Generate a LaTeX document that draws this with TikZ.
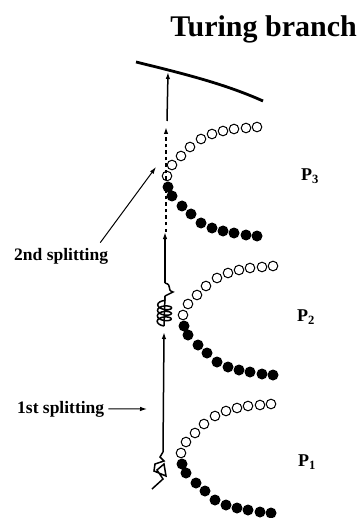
\documentclass[tikz,border=0pt]{standalone}
\usepackage{fontspec}
\setmainfont{Liberation Serif}
\usetikzlibrary{positioning,arrows.meta,decorations.pathmorphing}

\begin{document}
\begin{tikzpicture}[
x=1pt, y=-1pt,
>={Latex[length=7pt,width=4.5pt]},
every node/.style={
inner sep=0pt,
font=\bfseries
},
opendot/.style={circle, draw, line width=1pt, fill=white, minimum size=9.6pt},
fulldot/.style={circle, fill=black, minimum size=11pt},
splitlabel/.style={font=\bfseries\fontsize{17.5}{17.5}\selectfont, anchor=base west},
plabel/.style={font=\bfseries\fontsize{18}{18}\selectfont},
axis/.style={line width=1.5pt}
]
\useasboundingbox (0,0) rectangle (362,518);

\node[anchor=base east, font=\bfseries\fontsize{30}{30}\selectfont] (title) at (357,37) {Turing branch};

% the Turing branch
\draw[line width=2.8pt] (136,62) .. controls (185,74) and (225,84) .. (263,101);

% points on the vertical path
\coordinate (hit) at (168,72);
\coordinate (s3) at (167,121);
\coordinate (d3) at (166,127);
\coordinate (d2) at (166,232);
\coordinate (t2) at (165,232);
\coordinate (c2top) at (165,283);
\coordinate (c2) at (165,296);
\coordinate (c2bot) at (164,326);
\coordinate (t1) at (164,332);
\coordinate (c1top) at (163,452);
\coordinate (split2) at (156,167);
\coordinate (split1) at (147,409);

% branches P3, P2, P1
\foreach \vx/\vy/\k in {167/181/3, 183/320/2, 181/458/1} {
  \foreach \dx/\dy in {0/-5, 5/-16, 14/-25, 23/-34, 34/-42, 45/-47, 56/-50, 67/-52, 79/-53, 90/-54}
    \node[opendot] at (\vx+\dx,\vy+\dy) {};
  \foreach \dx/\dy in {1/6, 5/15, 15/25, 24/33, 34/42, 45/47, 56/50, 67/52, 79/54, 90/55}
    \node[fulldot] at (\vx+\dx,\vy+\dy) {};
}

% arrows along the path
\draw[axis,->] (s3) -- (hit);
\draw[axis,->,dash pattern=on 3.5pt off 3pt] (d2) -- (d3);
\draw[axis,->] (c2top) -- (t2);
\draw[axis] (c2top) .. controls (173,285) and (166,290) .. (173,292) -- (c2);
\draw[axis,decorate,decoration={coil,aspect=0.45,segment length=5.5pt,amplitude=7pt}] (c2bot) -- (c2);
\draw[axis] (c2bot) -- (c2);
\draw[axis,->] (c1top) -- (t1);

% tangle at the first splitting
\draw[axis] (c1top) -- (160,457) -- (164,461) -- (155,464) -- (154,471)
  -- (166,476) -- (164,464) -- (157,470) -- (163,479) -- (152,489);

% labels
\node[splitlabel] (second) at (14,260) {2nd splitting};
\node[splitlabel] (first) at (17,413) {1st splitting};
\draw[line width=1pt,->] ([shift={(-8,-5)}]second.north east) -- (split2);
\draw[line width=1pt,->] ([xshift=4pt]first.east) -- (split1);

\node[plabel] (p3) at (310,176) {P\textsubscript{3}};
\node[plabel] (p2) at (306,317) {P\textsubscript{2}};
\node[plabel] (p1) at (307,462) {P\textsubscript{1}};

\end{tikzpicture}
\end{document}
